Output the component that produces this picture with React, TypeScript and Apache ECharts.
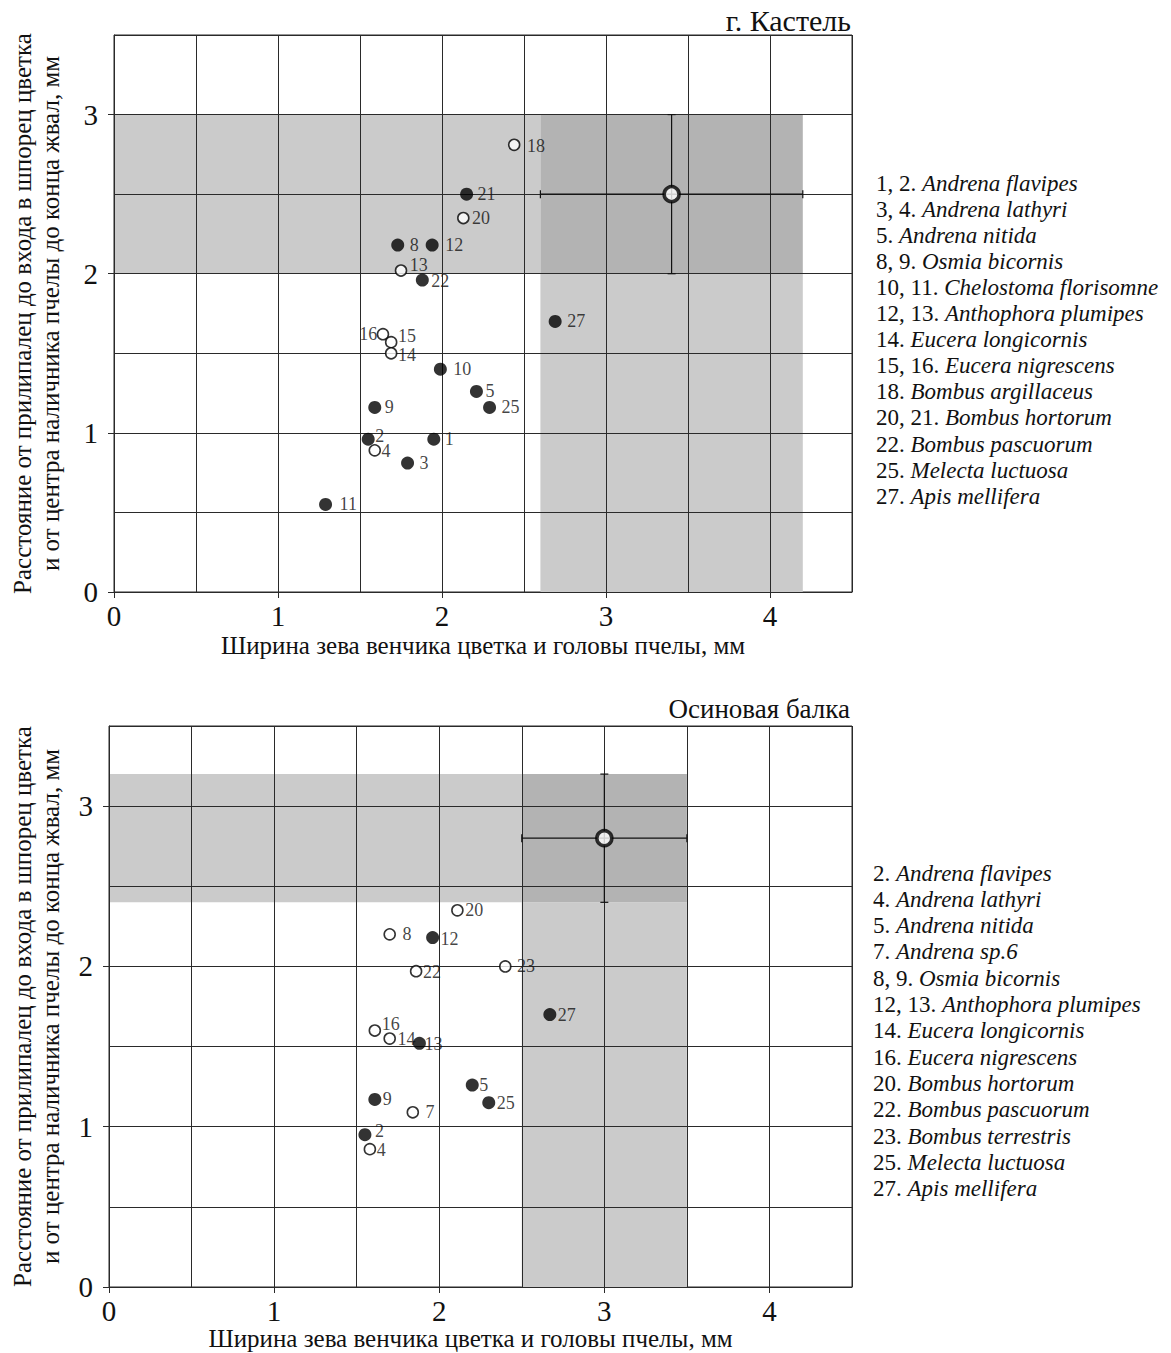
import React, { useEffect, useRef } from 'react';
import * as echarts from 'echarts';

const FONT = '"Liberation Serif", "Times New Roman", serif';

// ---------- shared axis content ----------
const X_TICKS = [0, 1, 2, 3, 4];
const Y_TICKS = [0, 1, 2, 3];
const X_NAME = 'Ширина зева венчика цветка и головы пчелы, мм';
const Y_NAME = 'Расстояние от прилипалец до входа в шпорец цветка\nи от центра наличника пчелы до конца жвал, мм';

// ---------- top chart: г. Кастель ----------
const TOP_TITLE = 'г. Кастель';
const TOP_FILLED_IDS = ['21', '8', '12', '22', '27', '10', '5', '25', '9', '2', '1', '3', '11'];
const TOP_FILLED_X = [2.15, 1.73, 1.94, 1.88, 2.69, 1.99, 2.21, 2.29, 1.59, 1.55, 1.95, 1.79, 1.29];
const TOP_FILLED_Y = [2.5, 2.18, 2.18, 1.96, 1.7, 1.4, 1.26, 1.16, 1.16, 0.96, 0.96, 0.81, 0.55];
const TOP_OPEN_IDS = ['18', '20', '13', '16', '15', '14', '4'];
const TOP_OPEN_X = [2.44, 2.13, 1.75, 1.64, 1.69, 1.69, 1.59];
const TOP_OPEN_Y = [2.81, 2.35, 2.02, 1.62, 1.57, 1.5, 0.89];
const TOP_MEAN = [3.4, 2.5];
const TOP_X_RANGE = [2.6, 4.2];
const TOP_Y_RANGE = [2.0, 3.0];
const TOP_LEGEND_NUMS = ['1, 2.', '3, 4.', '5.', '8, 9.', '10, 11.', '12, 13.', '14.', '15, 16.', '18.', '20, 21.', '22.', '25.', '27.'];
const TOP_LEGEND_SPECIES = [
  'Andrena flavipes', 'Andrena lathyri', 'Andrena nitida', 'Osmia bicornis',
  'Chelostoma florisomne', 'Anthophora plumipes', 'Eucera longicornis', 'Eucera nigrescens',
  'Bombus argillaceus', 'Bombus hortorum', 'Bombus pascuorum', 'Melecta luctuosa', 'Apis mellifera',
];

// ---------- bottom chart: Осиновая балка ----------
const BOT_TITLE = 'Осиновая балка';
const BOT_FILLED_IDS = ['12', '27', '13', '5', '25', '9', '2'];
const BOT_FILLED_X = [1.96, 2.67, 1.88, 2.2, 2.3, 1.61, 1.55];
const BOT_FILLED_Y = [2.18, 1.7, 1.52, 1.26, 1.15, 1.17, 0.95];
const BOT_OPEN_IDS = ['20', '8', '22', '23', '16', '14', '7', '4'];
const BOT_OPEN_X = [2.11, 1.7, 1.86, 2.4, 1.61, 1.7, 1.84, 1.58];
const BOT_OPEN_Y = [2.35, 2.2, 1.97, 2.0, 1.6, 1.55, 1.09, 0.86];
const BOT_MEAN = [3.0, 2.8];
const BOT_X_RANGE = [2.5, 3.5];
const BOT_Y_RANGE = [2.4, 3.2];
const BOT_LEGEND_NUMS = ['2.', '4.', '5.', '7.', '8, 9.', '12, 13.', '14.', '16.', '20.', '22.', '23.', '25.', '27.'];
const BOT_LEGEND_SPECIES = [
  'Andrena flavipes', 'Andrena lathyri', 'Andrena nitida', 'Andrena sp.6', 'Osmia bicornis',
  'Anthophora plumipes', 'Eucera longicornis', 'Eucera nigrescens', 'Bombus hortorum',
  'Bombus pascuorum', 'Bombus terrestris', 'Melecta luctuosa', 'Apis mellifera',
];

// ---------- styling: label nudges (gap from point centre to label edge, vertical shift); negative gap = label on left ----------
const TOP_LABEL_NUDGE: Record<string, [number, number]> = {
  '18': [13, 1], '21': [11, 0], '20': [9, 0], '8': [12, 0], '12': [13, 0], '13': [9, -6],
  '22': [9, 1], '27': [12, 0], '16': [-6, 0], '15': [7, -6], '14': [7, 2], '10': [13, 0],
  '5': [9, 0], '25': [12, 0], '9': [10, 0], '2': [7, -3], '1': [11, 0], '4': [7, 1],
  '3': [12, 0], '11': [14, 0],
};
const BOT_LABEL_NUDGE: Record<string, [number, number]> = {
  '20': [8, 0], '8': [13, 0], '12': [8, 1], '22': [7, 1], '23': [12, 0], '27': [8, 0],
  '16': [7, -7], '14': [8, 0], '13': [5, 1], '9': [8, 0], '7': [13, 0], '5': [7, 0],
  '25': [8, 0], '2': [10, -4], '4': [7, 1],
};

const R = 6.5;
const INK = '#111';
const LINE = { color: '#2a2a2a', width: 1 };

function pointData(ids: string[], xs: number[], ys: number[], nudge: Record<string, [number, number]>) {
  return ids.map((id, i) => {
    const [g, dy] = nudge[id] || [8, 0];
    const left = g < 0;
    return {
      name: id,
      value: [xs[i], ys[i]],
      label: {
        position: left ? 'left' : 'right',
        distance: 0,
        offset: [left ? -(Math.abs(g) - R) : g - R, dy],
      },
    };
  });
}

// axis carrying the 0.5-step grid lines (series are plotted on it)
function gridAxis(gridIndex: number, max: number, pos: string) {
  return {
    gridIndex, type: 'value', min: 0, max, interval: 0.5, z: 3, position: pos,
    axisLine: { show: false }, axisTick: { show: false }, axisLabel: { show: false },
    splitLine: { show: true, lineStyle: LINE },
  };
}

// axis carrying the integer ticks, labels and name
function labelAxis(gridIndex: number, max: number, pos: string, ticks: number[], isX: boolean, nameGap: number, shiftLeft = 0) {
  return {
    gridIndex, type: 'value', min: 0, max, interval: 1, z: 3, position: pos,
    axisLine: { show: true, lineStyle: LINE },
    axisTick: { show: true, customValues: ticks, length: 6, lineStyle: LINE },
    axisLabel: { customValues: ticks, fontFamily: FONT, fontSize: 29, color: INK, margin: isX ? 9 : 16 },
    splitLine: { show: false },
    name: isX ? X_NAME : Y_NAME, nameLocation: 'middle', nameGap,
    nameTextStyle: isX
      ? { fontFamily: FONT, fontSize: 25, color: INK, padding: [0, shiftLeft * 2, 0, 0] }
      : { fontFamily: FONT, fontSize: 25, color: INK, lineHeight: 28 },
  };
}

function chartSeries(idx: number, filled: any[], open: any[], mean: number[], xr: number[], yr: number[]) {
  const label = { show: true, formatter: '{b}', fontFamily: FONT, fontSize: 18, color: INK };
  return [
    {
      type: 'custom', xAxisIndex: idx, yAxisIndex: idx, z: 1, silent: true,
      data: [[xr[0], xr[1], yr[0], yr[1]]],
      renderItem: (params: any, api: any) => {
        const x0 = api.value(0), x1 = api.value(1), y0 = api.value(2), y1 = api.value(3);
        const rect = (ax: number, bx: number, ay: number, by: number, fill: string) => {
          const p1 = api.coord([ax, by]);
          const p2 = api.coord([bx, ay]);
          return { type: 'rect', shape: { x: p1[0], y: p1[1], width: p2[0] - p1[0], height: p2[1] - p1[1] }, style: { fill } };
        };
        return {
          type: 'group',
          children: [
            rect(0, x0, y0, y1, '#cbcbcb'),
            rect(x0, x1, 0, y0, '#cbcbcb'),
            rect(x0, x1, y0, y1, '#b3b3b3'),
          ],
        };
      },
    },
    {
      type: 'custom', xAxisIndex: idx, yAxisIndex: idx, z: 4, silent: true,
      data: [[mean[0], mean[1], xr[0], xr[1], yr[0], yr[1]]],
      renderItem: (params: any, api: any) => {
        const mx = api.value(0), my = api.value(1);
        const a = api.coord([api.value(2), my]);
        const b = api.coord([api.value(3), my]);
        const c = api.coord([mx, api.value(4)]);
        const d = api.coord([mx, api.value(5)]);
        const st = { stroke: INK, lineWidth: 1.2 };
        const cap = 4;
        const ln = (x1: number, y1: number, x2: number, y2: number) => ({ type: 'line', shape: { x1, y1, x2, y2 }, style: st });
        return {
          type: 'group',
          children: [
            ln(a[0], a[1], b[0], b[1]),
            ln(c[0], c[1], d[0], d[1]),
            ln(a[0], a[1] - cap, a[0], a[1] + cap),
            ln(b[0], b[1] - cap, b[0], b[1] + cap),
            ln(c[0] - cap, c[1], c[0] + cap, c[1]),
            ln(d[0] - cap, d[1], d[0] + cap, d[1]),
          ],
        };
      },
    },
    {
      type: 'scatter', xAxisIndex: idx, yAxisIndex: idx, z: 5, symbol: 'circle', symbolSize: 13,
      itemStyle: { color: '#000' }, label, data: filled,
    },
    {
      type: 'scatter', xAxisIndex: idx, yAxisIndex: idx, z: 5, symbol: 'circle', symbolSize: 11,
      itemStyle: { color: '#fff', borderColor: '#000', borderWidth: 1.6 }, label, data: open,
    },
    {
      type: 'scatter', xAxisIndex: idx, yAxisIndex: idx, z: 6, symbol: 'circle', symbolSize: 15,
      itemStyle: { color: '#fff', borderColor: '#000', borderWidth: 3.5 },
      data: [mean],
    },
  ];
}

function legendGraphics(nums: string[], species: string[], x: number, y0: number, step: number) {
  return nums.map((n, i) => ({
    type: 'text', x, y: y0 + i * step, z: 10,
    style: {
      text: `{n|${n} }{i|${species[i]}}`,
      verticalAlign: 'middle',
      rich: {
        n: { fontFamily: FONT, fontSize: 23, fill: INK },
        i: { fontFamily: FONT, fontSize: 23, fontStyle: 'italic', fill: INK },
      },
    },
  }));
}

export default function App() {
  const ref = useRef<HTMLDivElement>(null);
  useEffect(() => {
    if (!ref.current) return;
    const chart = echarts.init(ref.current, null, { renderer: 'svg' });
    chart.setOption({
      animation: false,
      backgroundColor: '#fff',
      title: [
        { text: TOP_TITLE, right: 315, top: 0, textStyle: { fontFamily: FONT, fontSize: 30, fontWeight: 'normal', color: INK } },
        { text: BOT_TITLE, right: 316, top: 690, textStyle: { fontFamily: FONT, fontSize: 27, fontWeight: 'normal', color: INK } },
      ],
      grid: [
        { left: 112, top: 35, width: 740, height: 557, show: true, borderColor: '#2a2a2a', borderWidth: 1, backgroundColor: 'transparent' },
        { left: 107, top: 726, width: 745, height: 561, show: true, borderColor: '#2a2a2a', borderWidth: 1, backgroundColor: 'transparent' },
      ],
      xAxis: [
        gridAxis(0, 4.5, 'bottom'),
        gridAxis(1, 4.5, 'bottom'),
        labelAxis(0, 4.5, 'bottom', X_TICKS, true, 41),
        labelAxis(1, 4.5, 'bottom', X_TICKS, true, 39, 10),
      ],
      yAxis: [
        gridAxis(0, 3.5, 'left'),
        gridAxis(1, 3.5, 'left'),
        labelAxis(0, 3.5, 'left', Y_TICKS, false, 50),
        labelAxis(1, 3.5, 'left', Y_TICKS, false, 45),
      ],
      series: [
        ...chartSeries(0,
          pointData(TOP_FILLED_IDS, TOP_FILLED_X, TOP_FILLED_Y, TOP_LABEL_NUDGE),
          pointData(TOP_OPEN_IDS, TOP_OPEN_X, TOP_OPEN_Y, TOP_LABEL_NUDGE),
          TOP_MEAN, TOP_X_RANGE, TOP_Y_RANGE),
        ...chartSeries(1,
          pointData(BOT_FILLED_IDS, BOT_FILLED_X, BOT_FILLED_Y, BOT_LABEL_NUDGE),
          pointData(BOT_OPEN_IDS, BOT_OPEN_X, BOT_OPEN_Y, BOT_LABEL_NUDGE),
          BOT_MEAN, BOT_X_RANGE, BOT_Y_RANGE),
      ],
      graphic: [
        ...legendGraphics(TOP_LEGEND_NUMS, TOP_LEGEND_SPECIES, 876, 183, 26.1),
        ...legendGraphics(BOT_LEGEND_NUMS, BOT_LEGEND_SPECIES, 873, 873, 26.3),
      ],
    });
    return () => chart.dispose();
  }, []);
  return <div ref={ref} style={{ position: 'fixed', left: 0, top: 0, width: 1171, height: 1353 }} />;
}
